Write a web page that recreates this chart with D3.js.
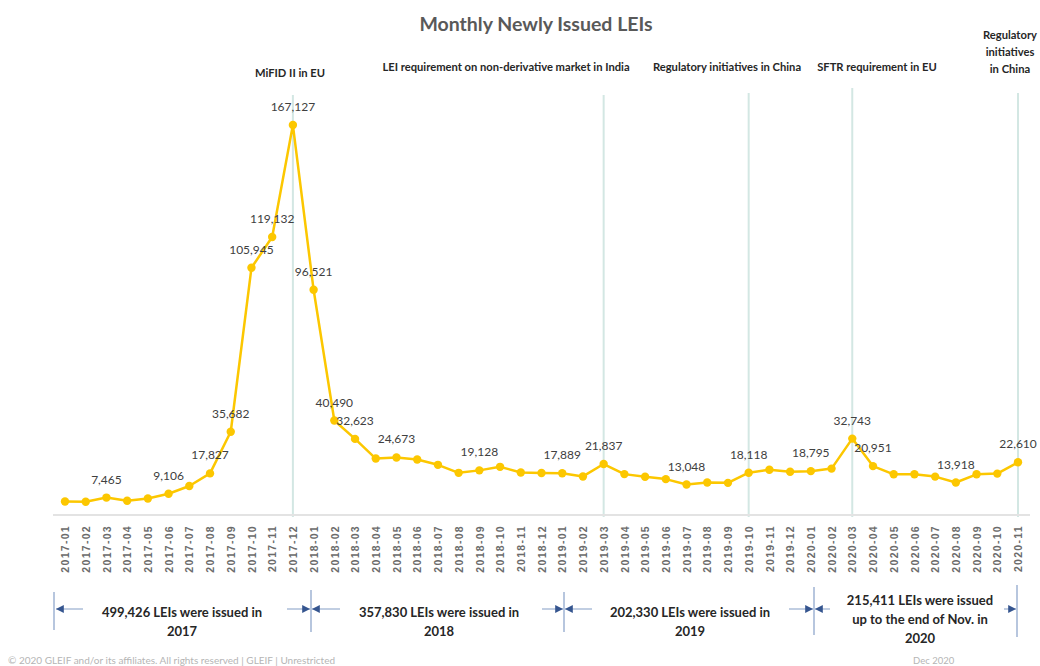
<!DOCTYPE html>
<meta charset="utf-8">
<style>
  body { margin: 0; background: #fff; }
  text { font-family: Lato, "Open Sans", sans-serif; }
</style>
<body>
  <script src="https://cdn.jsdelivr.net/npm/d3@7"></script>
  <script>
    // monthly newly issued LEIs, Jan 2017 - Nov 2020
    var months = [
      "2017-01", "2017-02", "2017-03", "2017-04", "2017-05", "2017-06",
      "2017-07", "2017-08", "2017-09", "2017-10", "2017-11", "2017-12",
      "2018-01", "2018-02", "2018-03", "2018-04", "2018-05", "2018-06",
      "2018-07", "2018-08", "2018-09", "2018-10", "2018-11", "2018-12",
      "2019-01", "2019-02", "2019-03", "2019-04", "2019-05", "2019-06",
      "2019-07", "2019-08", "2019-09", "2019-10", "2019-11", "2019-12",
      "2020-01", "2020-02", "2020-03", "2020-04", "2020-05", "2020-06",
      "2020-07", "2020-08", "2020-09", "2020-10", "2020-11"
    ];
    var values = [
      5800, 5700, 7465, 6100, 7100, 9106,
      12442, 17827, 35682, 105945, 119132, 167127,
      96521, 40490, 32623, 24200, 24673, 23760,
      21500, 18070, 19128, 20640, 18230, 17995,
      17889, 16530, 21837, 17520, 16380, 15380,
      13048, 13960, 13780, 18118, 19380, 18508,
      18795, 19880, 32743, 20951, 17440, 17440,
      16450, 13918, 17440, 17744, 22610
    ];
    // months whose value is printed on the chart
    var labelled = [
      "2017-03", "2017-06", "2017-08", "2017-09", "2017-10", "2017-11",
      "2017-12", "2018-01", "2018-02", "2018-03", "2018-05", "2018-09",
      "2019-01", "2019-03", "2019-07", "2019-10", "2020-01", "2020-03",
      "2020-04", "2020-08", "2020-11"
    ];
    // regulatory events
    var eventMonths = ["2017-12", "2019-03", "2019-10", "2020-03", "2020-11"];
    var eventLabels = [
      ["MiFID II in EU"],
      ["LEI requirement on non-derivative market in India"],
      ["Regulatory initiatives in China"],
      ["SFTR requirement in EU"],
      ["Regulatory", "initiatives", "in China"]
    ];
    // yearly totals shown under the axis
    var yearBounds = ["2017-01", "2018-01", "2019-01", "2020-01", "2020-11"];
    var yearTexts = [
      ["499,426 LEIs were issued in", "2017"],
      ["357,830 LEIs were issued in", "2018"],
      ["202,330 LEIs were issued in", "2019"],
      ["215,411 LEIs were issued", "up to the end of Nov. in", "2020"]
    ];

    var width = 1040, height = 666;
    var svg = d3.select("body").append("svg")
      .attr("width", width)
      .attr("height", height);

    var x = d3.scalePoint().domain(months).range([65, 1018]);
    var y = d3.scaleLinear().domain([0, 180000]).range([515, 95]);

    var fmt = d3.format(",");

    // title
    svg.append("text")
      .attr("x", 536)
      .attr("y", 31)
      .attr("text-anchor", "middle")
      .style("font-size", "19.5px")
      .style("font-weight", "bold")
      .style("fill", "#595959")
      .text("Monthly Newly Issued LEIs");

    // event lines
    var evTop = [95, 95, 93, 88, 93];
    svg.selectAll(".evline")
      .data(eventMonths)
      .enter().append("line")
      .attr("x1", function(d) { return x(d); })
      .attr("x2", function(d) { return x(d); })
      .attr("y1", function(d, i) { return evTop[i]; })
      .attr("y2", 517)
      .style("stroke", "#d3e7e3")
      .style("stroke-width", 2);

    // event labels
    var evPos = [[290, 77], [506, 71], [727, 71], [877, 71], [1010, 39]];
    eventLabels.forEach(function(lines, i) {
      var t = svg.append("text")
        .attr("text-anchor", "middle")
        .style("font-size", "11.2px")
        .style("font-weight", "bold")
        .style("fill", "#262626");
      lines.forEach(function(s, j) {
        t.append("tspan")
          .attr("x", evPos[i][0])
          .attr("y", evPos[i][1] + j * 17)
          .text(s);
      });
    });

    // x axis
    var xAxis = svg.append("g")
      .attr("transform", "translate(0,515)")
      .call(d3.axisBottom(x).tickSize(0).tickPadding(0));
    xAxis.select(".domain").remove();
    xAxis.append("line")
      .attr("x1", 53).attr("x2", 1030)
      .style("stroke", "#e3e3e3")
      .style("stroke-width", 2);
    xAxis.selectAll("text")
      .attr("transform", "rotate(-90)")
      .attr("x", -10)
      .attr("y", 0)
      .attr("dy", "0.35em")
      .attr("text-anchor", "end")
      .style("font-family", "'Liberation Sans', Arial, sans-serif")
      .style("font-size", "10.5px")
      .style("font-weight", "bold")
      .style("letter-spacing", "1.3px")
      .style("fill", "#6b6b6b");

    // line + markers
    var line = d3.line()
      .x(function(d, i) { return x(months[i]); })
      .y(function(d) { return y(d); });

    svg.append("path")
      .datum(values)
      .attr("d", line)
      .style("fill", "none")
      .style("stroke", "#fcc700")
      .style("stroke-width", 2.5)
      .style("stroke-linejoin", "round");

    svg.selectAll(".point")
      .data(values)
      .enter().append("circle")
      .attr("cx", function(d, i) { return x(months[i]); })
      .attr("cy", function(d) { return y(d); })
      .attr("r", 4.2)
      .style("fill", "#fcc700");

    // value labels
    svg.selectAll(".vlabel")
      .data(values.map(function(v, i) { return { m: months[i], v: v }; })
        .filter(function(d) { return labelled.indexOf(d.m) >= 0; }))
      .enter().append("text")
      .attr("x", function(d) { return x(d.m); })
      .attr("y", function(d) { return y(d.v) - 14; })
      .attr("text-anchor", "middle")
      .style("font-size", "12px")
      .style("fill", "#404040")
      .text(function(d) { return fmt(d.v); });

    // yearly span markers
    var spanTop = [592, 590, 592, 587, 585], spanBot = [630, 632, 632, 635, 637];
    var bx = [54, 311, 564, 814, 1017];
    svg.selectAll(".span")
      .data(yearBounds)
      .enter().append("line")
      .attr("x1", function(d, i) { return bx[i]; })
      .attr("x2", function(d, i) { return bx[i]; })
      .attr("y1", function(d, i) { return spanTop[i]; })
      .attr("y2", function(d, i) { return spanBot[i]; })
      .style("stroke", "#9fb3d3")
      .style("stroke-width", 1.5);

    var defs = svg.append("defs");
    defs.append("marker")
      .attr("id", "ah")
      .attr("viewBox", "0 0 10 10")
      .attr("refX", 10).attr("refY", 5)
      .attr("markerWidth", 6).attr("markerHeight", 6)
      .attr("orient", "auto")
      .append("path")
      .attr("d", "M0,0L10,5L0,10z")
      .style("fill", "#35558f");

    function arrow(x1, x2) {
      svg.append("line")
        .attr("x1", x1).attr("x2", x2)
        .attr("y1", 609).attr("y2", 609)
        .style("stroke", "#9fb3d3")
        .style("stroke-width", 1.3)
        .attr("marker-end", "url(#ah)");
    }
    arrow(83, 56);
    arrow(287, 310); arrow(340, 312);
    arrow(542, 563); arrow(592, 565);
    arrow(789, 813); arrow(830, 815);
    arrow(1004, 1016);

    // yearly totals text
    var txPos = [[182, 617], [439, 617], [690, 617], [920, 605]];
    yearTexts.forEach(function(lines, i) {
      var t = svg.append("text")
        .attr("text-anchor", "middle")
        .style("font-size", "13px")
        .style("font-weight", "bold")
        .style("fill", "#262626");
      lines.forEach(function(s, j) {
        t.append("tspan")
          .attr("x", txPos[i][0])
          .attr("y", txPos[i][1] + j * 19)
          .text(s);
      });
    });

    // footer
    svg.append("text")
      .attr("x", 8).attr("y", 664)
      .style("font-size", "10px")
      .style("fill", "#b5b5b5")
      .text("© 2020 GLEIF and/or its affiliates. All rights reserved | GLEIF |  Unrestricted");
    svg.append("text")
      .attr("x", 913).attr("y", 664)
      .style("font-size", "9.5px")
      .style("fill", "#b5b5b5")
      .text("Dec 2020");
  </script>
</body>
